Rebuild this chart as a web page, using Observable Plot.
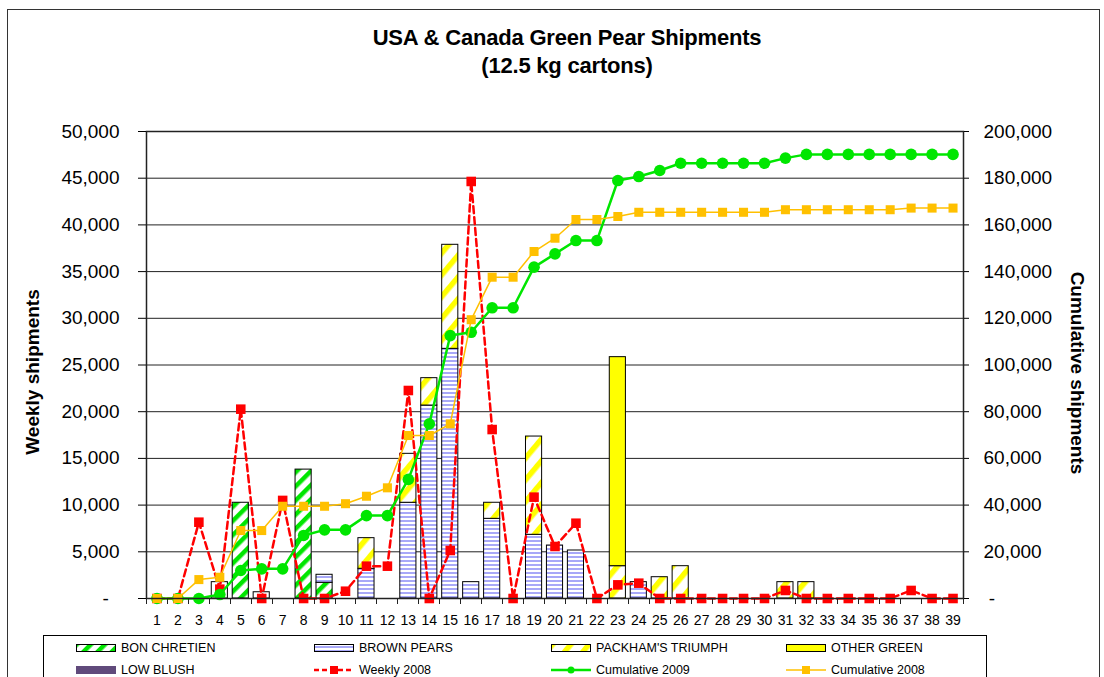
<!DOCTYPE html>
<html>
<head>
<meta charset="utf-8">
<script src="https://cdn.jsdelivr.net/npm/d3@7"></script>
<script src="https://cdn.jsdelivr.net/npm/@observablehq/plot@0.6"></script>
<style>
  body { margin: 0; background: #fff; }
  #wrap { position: relative; width: 1104px; height: 677px; overflow: hidden; background: #fff;
          font-family: "Liberation Sans", Arial, sans-serif; color: #000; }
  #border { position: absolute; left: 7px; top: 9px; width: 1093px; height: 720px; border: 1.5px solid #333; box-sizing: border-box; }
  .title { position: absolute; left: 567px; transform: translateX(-50%); font-weight: bold; font-size: 22px; white-space: nowrap; letter-spacing: -0.2px; }
  .ylab { position: absolute; font-weight: bold; font-size: 19px; white-space: nowrap; }
  #chart { position: absolute; left: 0; top: 100px; }
  #legend { position: absolute; left: 43px; top: 635px; width: 944px; height: 70px; border: 1px solid #000; box-sizing: border-box; background: #fff; }
  .li { position: absolute; height: 16px; display: flex; align-items: center; font-size: 12.5px; white-space: nowrap; }
  .li svg { margin-right: 5px; }
</style>
</head>
<body>
<div id="wrap">
  <svg width="0" height="0" style="position:absolute">
    <defs>
      <pattern id="pBon" patternUnits="userSpaceOnUse" width="10" height="10" patternTransform="rotate(45)">
        <rect width="10" height="10" fill="#fff"/>
        <rect width="4.5" height="10" fill="#00e600"/>
      </pattern>
      <pattern id="pBrown" patternUnits="userSpaceOnUse" width="4" height="4">
        <rect width="4" height="4" fill="#fff"/>
        <rect width="4" height="2" fill="#a8a8f8"/>
      </pattern>
      <pattern id="pPack" patternUnits="userSpaceOnUse" width="14" height="14" patternTransform="rotate(40)">
        <rect width="14" height="14" fill="#fff"/>
        <rect width="5.5" height="14" fill="#ffff00"/>
      </pattern>
    </defs>
  </svg>
  <div id="border"></div>
  <div class="title" style="top:25px">USA &amp; Canada Green Pear Shipments</div>
  <div class="title" style="top:53px">(12.5 kg cartons)</div>
  <div class="ylab" style="left:33px;top:372px;transform:translate(-50%,-50%) rotate(-90deg)">Weekly shipments</div>
  <div class="ylab" style="left:1077px;top:373px;transform:translate(-50%,-50%) rotate(90deg)">Cumulative shipments</div>
  <div id="chart"></div>
  <div id="legend"></div>
</div>
<script>
// ---- data ----
const weeks = [1,2,3,4,5,6,7,8,9,10,11,12,13,14,15,16,17,18,19,20,21,22,23,24,25,26,27,28,29,30,31,32,33,34,35,36,37,38,39];

const bonChretien = [0,0,0,0,10250,0,0,13800,1680,0, 0,0,0,0,0,0,0,0,0,0, 0,0,0,0,0,0,0,0,0,0, 0,0,0,0,0,0,0,0,0];
const unspecified = [0,0,0,1750,0,670,0,0,0,0, 0,0,0,0,0,0,0,0,0,0, 0,0,0,0,0,0,0,0,0,0, 0,0,0,0,0,0,0,0,0];
const brownPears  = [0,0,0,0,0,0,0,0,860,0, 3180,0,10250,20660,26730,1750,8530,0,6820,5670, 5140,0,0,1750,0,0,0,0,0,0, 0,0,0,0,0,0,0,0,0];
const packhams    = [0,0,0,0,0,0,0,0,0,0, 3280,0,5240,2930,11140,0,1720,0,10520,0, 0,0,3460,0,2280,3460,0,0,0,0, 1750,1750,0,0,0,0,0,0,0];
const otherGreen  = [0,0,0,0,0,0,0,0,0,0, 0,0,0,0,0,0,0,0,0,0, 0,0,22380,0,0,0,0,0,0,0, 0,0,0,0,0,0,0,0,0];
const lowBlush    = [0,0,0,0,0,0,0,0,0,0, 0,0,0,0,0,0,0,0,0,0, 0,0,0,0,0,0,0,0,0,0, 0,0,0,0,0,0,0,0,0];

const weekly2008 = [0,0,8170,1000,20270,0,10500,0,0,780, 3460,3460,22270,0,5140,44650,18090,0,10850,5570, 8060,0,1460,1640,0,0,0,0,0,0, 860,0,0,0,0,0,860,0,0];
const cum2009 = [0,0,0,1700,12000,12700,12700,27000,29400,29400, 35500,35500,51000,74800,112600,114000,124500,124500,141900,147600, 153300,153300,179000,180700,183300,186400,186400,186400,186400,186400, 188600,190200,190200,190200,190200,190200,190200,190200,190200];
const cum2008 = [0,0,8100,9100,29100,29100,39500,39500,39500,40600, 43800,47400,69800,69800,74800,119400,137600,137600,148600,154300, 162300,162300,163600,165400,165400,165400,165400,165400,165400,165400, 166500,166500,166500,166500,166500,166500,167200,167200,167200];

const leftTicks  = [0,5000,10000,15000,20000,25000,30000,35000,40000,45000,50000];
const rightTicks = [0,20000,40000,60000,80000,100000,120000,140000,160000,180000,200000];

const seriesNames = ["BON CHRETIEN", "UNSPECIFIED", "BROWN PEARS", "PACKHAM'S TRIUMPH", "OTHER GREEN", "LOW BLUSH"];
const seriesFills = ["url(#pBon)", "#ffffff", "url(#pBrown)", "url(#pPack)", "#ffff00", "#604a7b"];
const seriesValues = [bonChretien, unspecified, brownPears, packhams, otherGreen, lowBlush];

// ---- tables ----
const barRows = seriesNames.flatMap((s, k) => seriesValues[k].map((v, i) => ({week: weeks[i], series: s, value: v}))).filter(d => d.value > 0);
const ratio = rightTicks[rightTicks.length - 1] / leftTicks[leftTicks.length - 1];
const wRows = weeks.map((w, i) => ({week: w, value: weekly2008[i]}));
const c9Rows = weeks.map((w, i) => ({week: w, value: cum2009[i] / ratio}));
const c8Rows = weeks.map((w, i) => ({week: w, value: cum2008[i] / ratio}));

const fmt = d3.format(",");
const tfLeft = v => v === 0 ? "-\u00a0\u00a0" : fmt(v);
const tfRight = v => v === 0 ? "\u00a0-" : fmt(v);

const RED = "#ff0000", GREEN = "#00e600", GOLD = "#ffc000";

const chart = Plot.plot({
  width: 1104,
  height: 535,
  marginTop: 31,
  marginBottom: 37,
  marginLeft: 146,
  marginRight: 141,
  style: {fontFamily: "'Liberation Sans', Arial, sans-serif", color: "#000", background: "transparent", overflow: "visible"},
  x: {type: "band", domain: weeks, paddingInner: 0.23, paddingOuter: 0.115, round: false, axis: null},
  y: {domain: [0, 50000], axis: null},
  color: {type: "ordinal", domain: seriesNames, range: seriesFills},
  marks: [
    Plot.ruleY(leftTicks, {stroke: "#222", strokeWidth: 1}),
    Plot.barY(barRows, {x: "week", y: "value", fill: "series", stroke: "#000", strokeWidth: 1}),
    Plot.line(wRows, {x: "week", y: "value", stroke: RED, strokeWidth: 2.5, strokeDasharray: "7,4"}),
    Plot.dot(wRows, {x: "week", y: "value", symbol: "square", r: 5.4, fill: RED, stroke: "none"}),
    Plot.line(c9Rows, {x: "week", y: "value", stroke: GREEN, strokeWidth: 2.5}),
    Plot.dot(c9Rows, {x: "week", y: "value", symbol: "circle", r: 5.8, fill: GREEN, stroke: "none"}),
    Plot.line(c8Rows, {x: "week", y: "value", stroke: GOLD, strokeWidth: 1.5}),
    Plot.dot(c8Rows, {x: "week", y: "value", symbol: "square", r: 5.1, fill: GOLD, stroke: "none"}),
    Plot.frame({stroke: "#222", strokeWidth: 1.5}),
    Plot.axisY(leftTicks, {anchor: "left", tickSize: 8, tickPadding: 19, tickFormat: tfLeft, fontSize: 19, label: null}),
    Plot.axisY(leftTicks, {anchor: "right", tickSize: 5, tickPadding: 15, tickFormat: d => tfRight(d * ratio), fontSize: 19, label: null}),
    Plot.axisX(weeks, {anchor: "bottom", tickSize: 0, tickPadding: 17, fontSize: 14, label: null})
  ]
});

// Excel-style tick marks at the band boundaries, from the x scale
const xs = chart.scale("x");
const ys = chart.scale("y");
const [r0, r1] = xs.range;
const step = (r1 - r0) / xs.domain.length;
const yBase = ys.apply(0);
const g = d3.select(chart).append("g").attr("stroke", "#222").attr("stroke-width", 1);
for (let i = 0; i <= xs.domain.length; i++) {
  const xp = Math.round(r0 + i * step) + 0.5;
  g.append("line").attr("x1", xp).attr("x2", xp).attr("y1", yBase).attr("y2", yBase + 6);
}
document.getElementById("chart").appendChild(chart);

// ---- legend ----
const legendItems = [
  {label: "BON CHRETIEN", kind: "bar", fill: seriesFills[0], col: 0, row: 0},
  {label: "BROWN PEARS", kind: "bar", fill: seriesFills[2], col: 1, row: 0},
  {label: "PACKHAM'S TRIUMPH", kind: "bar", fill: seriesFills[3], col: 2, row: 0},
  {label: "OTHER GREEN", kind: "bar", fill: seriesFills[4], col: 3, row: 0},
  {label: "LOW BLUSH", kind: "solid", fill: seriesFills[5], col: 0, row: 1},
  {label: "Weekly 2008", kind: "line", color: RED, dash: "5,3", w: 2.5, marker: "square", col: 1, row: 1},
  {label: "Cumulative 2009", kind: "line", color: GREEN, dash: null, w: 2.5, marker: "circle", col: 2, row: 1},
  {label: "Cumulative 2008", kind: "line", color: GOLD, dash: null, w: 1.5, marker: "square", col: 3, row: 1}
];
const colX = [32, 270, 507, 742];
const rowY = [4, 26];
const legend = document.getElementById("legend");
for (const it of legendItems) {
  const div = document.createElement("div");
  div.className = "li";
  div.style.left = colX[it.col] + "px";
  div.style.top = rowY[it.row] + "px";
  let sw;
  if (it.kind === "bar") {
    sw = `<svg width="40" height="12"><rect x="0.5" y="2.5" width="39" height="7" fill="${it.fill}" stroke="#000" stroke-width="1"/></svg>`;
  } else if (it.kind === "solid") {
    sw = `<svg width="40" height="12"><rect x="0" y="2" width="40" height="8" fill="${it.fill}"/></svg>`;
  } else {
    const m = it.marker === "circle"
      ? `<circle cx="20" cy="6" r="3.5" fill="${it.color}"/>`
      : `<rect x="16" y="2" width="8" height="8" fill="${it.color}"/>`;
    sw = `<svg width="40" height="12"><line x1="0" y1="6" x2="40" y2="6" stroke="${it.color}" stroke-width="${it.w}" ${it.dash ? `stroke-dasharray="${it.dash}"` : ""}/>${m}</svg>`;
  }
  div.innerHTML = sw + `<span>${it.label}</span>`;
  legend.appendChild(div);
}
</script>
</body>
</html>
